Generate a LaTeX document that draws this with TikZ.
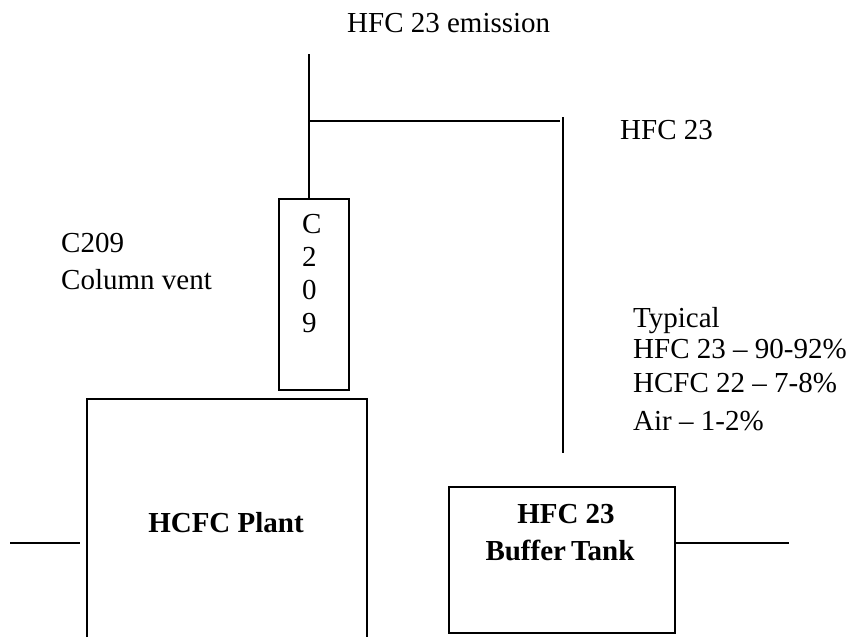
\documentclass[tikz,border=0pt]{standalone}
\usepackage{fontspec}
\setmainfont{Liberation Serif}
\begin{document}
\begin{tikzpicture}[x=1pt,y=-1pt,
  line/.style={line width=1.7pt},
  box/.style={draw,line width=1.7pt,inner sep=0pt},
  lbl/.style={inner sep=0pt,anchor=base west,font=\fontsize{29}{34}\selectfont},
  blbl/.style={inner sep=0pt,anchor=base,font=\fontsize{29}{34}\selectfont\bfseries}]
\useasboundingbox (0,0) rectangle (851,637);
% C209 column box
\node[box,minimum width=70pt,minimum height=191pt] (col) at (314,294.5) {};
% HFC 23 buffer tank
\node[box,minimum width=226pt,minimum height=146pt] (tank) at (562,560) {};
% HCFC plant (open at the bottom)
\coordinate (plbl) at (87,637);
\coordinate (pltl) at (87,399);
\coordinate (pltr) at (367,399);
\coordinate (plbr) at (367,637);
\draw[line] (plbl) -- (pltl) -- (pltr) -- (plbr);
% connectors
\coordinate (top) at (309,54);
\coordinate (jn) at (309,121);
\coordinate (hend) at (560,121);
\coordinate (vtop) at (563,117);
\coordinate (vbot) at (563,453);
\coordinate (inL) at (10,543);
\coordinate (inR) at (80,543);
\coordinate (outR) at (789,543);
\draw[line] (top) -- (col.north -| top);
\draw[line] (jn) -- (hend);
\draw[line] (vtop) -- (vbot);
\draw[line] (inL) -- (inR);
\draw[line] (tank.east |- outR) -- (outR);
% labels
\node[lbl] (emis) at (347,32) {HFC 23 emission};
\node[lbl] (hfc) at (620,139) {HFC 23};
\node[lbl] (c209a) at (61,252) {C209};
\node[lbl] (c209b) at (61,289) {Column vent};
\node[lbl] (cc) at (302,233) {C};
\node[lbl] (c2) at (302,266) {2};
\node[lbl] (c0) at (302,299) {0};
\node[lbl] (c9) at (302,332) {9};
\node[lbl] (typ) at (633,327) {Typical};
\node[lbl] (t1) at (633,358) {HFC 23 -- 90-92\%};
\node[lbl] (t2) at (633,392) {HCFC 22 -- 7-8\%};
\node[lbl] (t3) at (633,430) {Air -- 1-2\%};
\node[blbl] (plant) at (226,532) {HCFC Plant};
\node[blbl] (tk1) at (566,523) {HFC 23};
\node[blbl] (tk2) at (560,560) {Buffer\kern5pt Tank};
\end{tikzpicture}
\end{document}
